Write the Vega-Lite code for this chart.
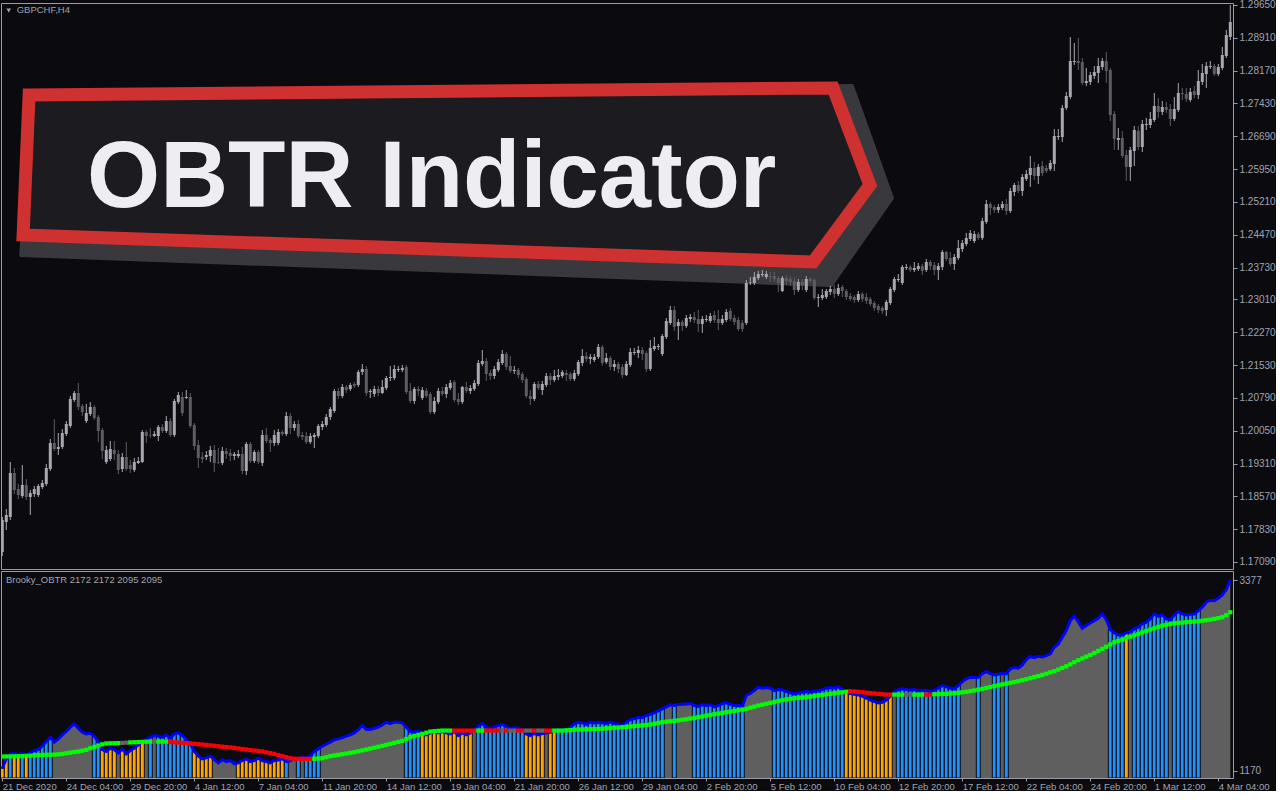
{
"$schema":"https://vega.github.io/schema/vega-lite/v6.json",
"usermeta":{"embedOptions":{"actions":false}},
"background":"#0a0a0f",
"padding":{"left":-4,"top":-1,"right":0,"bottom":0},
"spacing":0,
"config":{"view":{"stroke":"#9c9ca4","strokeWidth":1},"axis":{"labelFont":"Liberation Sans","labelFontSize":10,"labelColor":"#a0a4b0","tickColor":"#9c9ca4","domain":false,"grid":false}},
"datasets":{
"banner":[
{"g":"s","i":0,"bk":8.2,"bp":1.27688},{"g":"s","i":1,"bk":212.4,"bp":1.27824},{"g":"s","i":2,"bk":222.4,"bp":1.25298},{"g":"s","i":3,"bk":207.2,"bp":1.23336},{"g":"s","i":4,"bk":4.7,"bp":1.24013},
{"g":"m","i":0,"bk":6.7,"bp":1.27621},{"g":"m","i":1,"bk":207.7,"bp":1.27779},{"g":"m","i":2,"bk":216.9,"bp":1.25591},{"g":"m","i":3,"bk":202.7,"bp":1.23855},{"g":"m","i":4,"bk":5.2,"bp":1.24464}
],
"d":[
{"k":0,"o":1.17315,"h":1.18105,"l":1.17225,"c":1.18037,"v":1202,"m":1337,"b":2,"s":"g"},
{"k":1,"o":1.17992,"h":1.18285,"l":1.17811,"c":1.1815,"v":1310,"m":1338,"b":2,"s":"g"},
{"k":2,"o":1.18105,"h":1.19345,"l":1.18037,"c":1.19097,"v":1368,"m":1339,"b":1,"s":"g"},
{"k":3,"o":1.19097,"h":1.1921,"l":1.18623,"c":1.18713,"v":1368,"m":1340,"b":2,"s":"g"},
{"k":4,"o":1.18736,"h":1.18849,"l":1.18511,"c":1.18601,"v":1364,"m":1341,"b":2,"s":"g"},
{"k":5,"o":1.18578,"h":1.19277,"l":1.18533,"c":1.18826,"v":1368,"m":1342,"b":1,"s":"g"},
{"k":6,"o":1.18826,"h":1.18962,"l":1.18488,"c":1.18556,"v":1360,"m":1344,"b":2,"s":"g"},
{"k":7,"o":1.18556,"h":1.18713,"l":1.1815,"c":1.18646,"v":1379,"m":1347,"b":1,"s":"g"},
{"k":8,"o":1.18623,"h":1.18804,"l":1.18556,"c":1.18736,"v":1406,"m":1350,"b":1,"s":"g"},
{"k":9,"o":1.18601,"h":1.18849,"l":1.18556,"c":1.18804,"v":1418,"m":1354,"b":1,"s":"g"},
{"k":10,"o":1.18781,"h":1.18939,"l":1.18736,"c":1.18871,"v":1456,"m":1356,"b":1,"s":"g"},
{"k":11,"o":1.18849,"h":1.193,"l":1.18804,"c":1.1921,"v":1510,"m":1357,"b":1,"s":"g"},
{"k":12,"o":1.19187,"h":1.19864,"l":1.19142,"c":1.19773,"v":1560,"m":1358,"b":1,"s":"g"},
{"k":13,"o":1.19773,"h":1.20315,"l":1.19593,"c":1.19638,"v":1503,"m":1359,"b":0,"s":"g"},
{"k":14,"o":1.19638,"h":1.19999,"l":1.19503,"c":1.19683,"v":1541,"m":1362,"b":0,"s":"g"},
{"k":15,"o":1.19683,"h":1.20089,"l":1.19638,"c":1.19999,"v":1587,"m":1367,"b":0,"s":"g"},
{"k":16,"o":1.19976,"h":1.20269,"l":1.19931,"c":1.20202,"v":1626,"m":1375,"b":0,"s":"g"},
{"k":17,"o":1.20157,"h":1.20833,"l":1.20112,"c":1.20766,"v":1676,"m":1382,"b":0,"s":"g"},
{"k":18,"o":1.20743,"h":1.20946,"l":1.20698,"c":1.20901,"v":1714,"m":1389,"b":0,"s":"g"},
{"k":19,"o":1.20901,"h":1.21126,"l":1.20517,"c":1.20585,"v":1664,"m":1395,"b":0,"s":"g"},
{"k":20,"o":1.20608,"h":1.20653,"l":1.20382,"c":1.20472,"v":1618,"m":1404,"b":0,"s":"g"},
{"k":21,"o":1.20269,"h":1.20653,"l":1.20224,"c":1.2045,"v":1599,"m":1414,"b":0,"s":"g"},
{"k":22,"o":1.20427,"h":1.20698,"l":1.20382,"c":1.20585,"v":1606,"m":1433,"b":0,"s":"g"},
{"k":23,"o":1.20585,"h":1.2063,"l":1.20292,"c":1.20337,"v":1572,"m":1448,"b":1,"s":"g"},
{"k":24,"o":1.2036,"h":1.20405,"l":1.19796,"c":1.20044,"v":1503,"m":1464,"b":1,"s":"g"},
{"k":25,"o":1.20066,"h":1.20112,"l":1.19413,"c":1.19593,"v":1418,"m":1478,"b":2,"s":"g"},
{"k":26,"o":1.19345,"h":1.19706,"l":1.193,"c":1.19615,"v":1395,"m":1488,"b":2,"s":"g"},
{"k":27,"o":1.19413,"h":1.19818,"l":1.19367,"c":1.19638,"v":1433,"m":1490,"b":2,"s":"g"},
{"k":28,"o":1.19615,"h":1.19818,"l":1.1939,"c":1.19525,"v":1418,"m":1491,"b":2,"s":"g"},
{"k":29,"o":1.19525,"h":1.19615,"l":1.19074,"c":1.19164,"v":1379,"m":1492,"b":0,"s":"g"},
{"k":30,"o":1.19187,"h":1.19548,"l":1.19119,"c":1.19458,"v":1425,"m":1494,"b":2,"s":"n"},
{"k":31,"o":1.19458,"h":1.19796,"l":1.19142,"c":1.19187,"v":1368,"m":1497,"b":2,"s":"n"},
{"k":32,"o":1.19277,"h":1.1939,"l":1.19097,"c":1.19187,"v":1406,"m":1500,"b":2,"s":"g"},
{"k":33,"o":1.19164,"h":1.19435,"l":1.19119,"c":1.19345,"v":1433,"m":1502,"b":2,"s":"g"},
{"k":34,"o":1.19322,"h":1.19458,"l":1.193,"c":1.19367,"v":1472,"m":1504,"b":2,"s":"g"},
{"k":35,"o":1.19345,"h":1.20066,"l":1.19322,"c":1.20021,"v":1510,"m":1506,"b":2,"s":"g"},
{"k":36,"o":1.20021,"h":1.20066,"l":1.19773,"c":1.19931,"v":1533,"m":1508,"b":0,"s":"g"},
{"k":37,"o":1.19954,"h":1.20112,"l":1.19886,"c":1.19943,"v":1560,"m":1509,"b":1,"s":"g"},
{"k":38,"o":1.19931,"h":1.20044,"l":1.19909,"c":1.19976,"v":1580,"m":1510,"b":0,"s":"n"},
{"k":39,"o":1.19931,"h":1.20179,"l":1.19818,"c":1.20134,"v":1572,"m":1510,"b":1,"s":"g"},
{"k":40,"o":1.20134,"h":1.20202,"l":1.19999,"c":1.20044,"v":1560,"m":1510,"b":1,"s":"g"},
{"k":41,"o":1.20044,"h":1.20382,"l":1.19999,"c":1.20269,"v":1587,"m":1509,"b":1,"s":"g"},
{"k":42,"o":1.20269,"h":1.20337,"l":1.19909,"c":1.19954,"v":1549,"m":1506,"b":1,"s":"r"},
{"k":43,"o":1.19954,"h":1.20766,"l":1.19909,"c":1.2072,"v":1599,"m":1502,"b":1,"s":"r"},
{"k":44,"o":1.20698,"h":1.20923,"l":1.20653,"c":1.20856,"v":1610,"m":1499,"b":1,"s":"r"},
{"k":45,"o":1.20811,"h":1.20923,"l":1.20382,"c":1.2045,"v":1580,"m":1495,"b":1,"s":"r"},
{"k":46,"o":1.20788,"h":1.20968,"l":1.20766,"c":1.20811,"v":1533,"m":1491,"b":1,"s":"r"},
{"k":47,"o":1.20811,"h":1.20901,"l":1.20112,"c":1.20157,"v":1483,"m":1488,"b":1,"s":"r"},
{"k":48,"o":1.20179,"h":1.20224,"l":1.19615,"c":1.19706,"v":1395,"m":1484,"b":2,"s":"r"},
{"k":49,"o":1.19728,"h":1.19841,"l":1.1921,"c":1.19435,"v":1341,"m":1480,"b":2,"s":"r"},
{"k":50,"o":1.19458,"h":1.1957,"l":1.19322,"c":1.19413,"v":1310,"m":1476,"b":2,"s":"r"},
{"k":51,"o":1.19458,"h":1.19593,"l":1.1939,"c":1.19503,"v":1322,"m":1471,"b":2,"s":"r"},
{"k":52,"o":1.1948,"h":1.19706,"l":1.19345,"c":1.19615,"v":1341,"m":1466,"b":2,"s":"r"},
{"k":53,"o":1.19615,"h":1.19728,"l":1.19119,"c":1.19322,"v":1302,"m":1461,"b":0,"s":"r"},
{"k":54,"o":1.19345,"h":1.19661,"l":1.193,"c":1.19334,"v":1264,"m":1456,"b":0,"s":"r"},
{"k":55,"o":1.19322,"h":1.19683,"l":1.19277,"c":1.19593,"v":1302,"m":1451,"b":0,"s":"r"},
{"k":56,"o":1.19593,"h":1.19661,"l":1.19413,"c":1.19525,"v":1279,"m":1446,"b":0,"s":"r"},
{"k":57,"o":1.19548,"h":1.19638,"l":1.19367,"c":1.1948,"v":1291,"m":1442,"b":0,"s":"r"},
{"k":58,"o":1.1948,"h":1.1957,"l":1.1939,"c":1.19525,"v":1252,"m":1437,"b":0,"s":"r"},
{"k":59,"o":1.1948,"h":1.19615,"l":1.19435,"c":1.19525,"v":1264,"m":1431,"b":2,"s":"r"},
{"k":60,"o":1.19525,"h":1.19683,"l":1.19074,"c":1.19142,"v":1291,"m":1424,"b":2,"s":"r"},
{"k":61,"o":1.19142,"h":1.19796,"l":1.19052,"c":1.19751,"v":1310,"m":1418,"b":2,"s":"r"},
{"k":62,"o":1.19751,"h":1.19796,"l":1.19322,"c":1.19367,"v":1279,"m":1412,"b":2,"s":"r"},
{"k":63,"o":1.19367,"h":1.19615,"l":1.19322,"c":1.1957,"v":1291,"m":1406,"b":2,"s":"r"},
{"k":64,"o":1.1957,"h":1.19615,"l":1.193,"c":1.19345,"v":1318,"m":1401,"b":2,"s":"r"},
{"k":65,"o":1.19322,"h":1.20066,"l":1.19255,"c":1.19954,"v":1291,"m":1395,"b":2,"s":"r"},
{"k":66,"o":1.19954,"h":1.20112,"l":1.19773,"c":1.19818,"v":1279,"m":1386,"b":2,"s":"r"},
{"k":67,"o":1.19841,"h":1.19886,"l":1.1957,"c":1.19773,"v":1264,"m":1377,"b":2,"s":"r"},
{"k":68,"o":1.19773,"h":1.20066,"l":1.19706,"c":1.19954,"v":1291,"m":1368,"b":2,"s":"r"},
{"k":69,"o":1.19773,"h":1.20089,"l":1.19728,"c":1.20021,"v":1298,"m":1354,"b":2,"s":"r"},
{"k":70,"o":1.20021,"h":1.20066,"l":1.19931,"c":1.19976,"v":1310,"m":1341,"b":2,"s":"r"},
{"k":71,"o":1.19976,"h":1.20472,"l":1.19931,"c":1.20382,"v":1279,"m":1330,"b":1,"s":"r"},
{"k":72,"o":1.20382,"h":1.2045,"l":1.19976,"c":1.20112,"v":1287,"m":1318,"b":0,"s":"r"},
{"k":73,"o":1.20112,"h":1.20269,"l":1.20044,"c":1.20202,"v":1310,"m":1312,"b":0,"s":"r"},
{"k":74,"o":1.20202,"h":1.20292,"l":1.19886,"c":1.19931,"v":1318,"m":1310,"b":1,"s":"r"},
{"k":75,"o":1.19954,"h":1.20021,"l":1.19841,"c":1.19909,"v":1325,"m":1310,"b":0,"s":"r"},
{"k":76,"o":1.19931,"h":1.20021,"l":1.19751,"c":1.19796,"v":1318,"m":1310,"b":1,"s":"r"},
{"k":77,"o":1.19796,"h":1.19999,"l":1.19751,"c":1.19931,"v":1349,"m":1310,"b":1,"s":"r"},
{"k":78,"o":1.19909,"h":1.19999,"l":1.19661,"c":1.19954,"v":1395,"m":1311,"b":1,"s":"g"},
{"k":79,"o":1.19931,"h":1.20202,"l":1.19886,"c":1.20157,"v":1425,"m":1314,"b":1,"s":"g"},
{"k":80,"o":1.20134,"h":1.20269,"l":1.20066,"c":1.20202,"v":1456,"m":1318,"b":0,"s":"g"},
{"k":81,"o":1.20179,"h":1.20427,"l":1.20134,"c":1.2036,"v":1479,"m":1329,"b":0,"s":"g"},
{"k":82,"o":1.2036,"h":1.20585,"l":1.20292,"c":1.2054,"v":1503,"m":1341,"b":0,"s":"g"},
{"k":83,"o":1.20495,"h":1.20991,"l":1.2045,"c":1.20946,"v":1529,"m":1349,"b":0,"s":"g"},
{"k":84,"o":1.20946,"h":1.21014,"l":1.20766,"c":1.20833,"v":1541,"m":1356,"b":0,"s":"g"},
{"k":85,"o":1.20833,"h":1.21104,"l":1.20788,"c":1.21036,"v":1556,"m":1364,"b":0,"s":"g"},
{"k":86,"o":1.21036,"h":1.21081,"l":1.20901,"c":1.20968,"v":1572,"m":1372,"b":0,"s":"g"},
{"k":87,"o":1.20991,"h":1.21126,"l":1.20946,"c":1.21081,"v":1587,"m":1380,"b":0,"s":"g"},
{"k":88,"o":1.21104,"h":1.21149,"l":1.21014,"c":1.21059,"v":1610,"m":1387,"b":0,"s":"g"},
{"k":89,"o":1.21081,"h":1.21419,"l":1.21036,"c":1.21374,"v":1649,"m":1397,"b":0,"s":"g"},
{"k":90,"o":1.21374,"h":1.21555,"l":1.21307,"c":1.21442,"v":1695,"m":1408,"b":0,"s":"g"},
{"k":91,"o":1.21442,"h":1.2151,"l":1.20833,"c":1.20901,"v":1649,"m":1418,"b":0,"s":"g"},
{"k":92,"o":1.20923,"h":1.20991,"l":1.20788,"c":1.20946,"v":1649,"m":1428,"b":0,"s":"g"},
{"k":93,"o":1.20878,"h":1.21059,"l":1.20811,"c":1.20991,"v":1664,"m":1439,"b":0,"s":"g"},
{"k":94,"o":1.20991,"h":1.21059,"l":1.20833,"c":1.20901,"v":1676,"m":1449,"b":0,"s":"g"},
{"k":95,"o":1.20901,"h":1.21194,"l":1.20878,"c":1.21036,"v":1703,"m":1460,"b":0,"s":"g"},
{"k":96,"o":1.21014,"h":1.21284,"l":1.20968,"c":1.21239,"v":1734,"m":1472,"b":0,"s":"g"},
{"k":97,"o":1.21239,"h":1.2151,"l":1.21171,"c":1.21262,"v":1718,"m":1483,"b":0,"s":"g"},
{"k":98,"o":1.21239,"h":1.21532,"l":1.21194,"c":1.21442,"v":1734,"m":1495,"b":0,"s":"g"},
{"k":99,"o":1.21419,"h":1.2151,"l":1.21374,"c":1.21442,"v":1734,"m":1506,"b":0,"s":"g"},
{"k":100,"o":1.21419,"h":1.21532,"l":1.21374,"c":1.21465,"v":1726,"m":1518,"b":0,"s":"g"},
{"k":101,"o":1.21487,"h":1.21532,"l":1.20878,"c":1.20923,"v":1676,"m":1539,"b":1,"s":"g"},
{"k":102,"o":1.20946,"h":1.21126,"l":1.20675,"c":1.2072,"v":1626,"m":1560,"b":1,"s":"g"},
{"k":103,"o":1.2072,"h":1.21036,"l":1.20653,"c":1.20991,"v":1618,"m":1573,"b":1,"s":"g"},
{"k":104,"o":1.20991,"h":1.21059,"l":1.20833,"c":1.20946,"v":1633,"m":1586,"b":1,"s":"g"},
{"k":105,"o":1.20788,"h":1.21036,"l":1.20743,"c":1.20968,"v":1610,"m":1599,"b":2,"s":"g"},
{"k":106,"o":1.20946,"h":1.21014,"l":1.20788,"c":1.20833,"v":1587,"m":1612,"b":2,"s":"g"},
{"k":107,"o":1.20878,"h":1.20923,"l":1.20427,"c":1.20472,"v":1610,"m":1626,"b":2,"s":"g"},
{"k":108,"o":1.20472,"h":1.20811,"l":1.20427,"c":1.2072,"v":1626,"m":1630,"b":2,"s":"g"},
{"k":109,"o":1.20698,"h":1.21014,"l":1.20653,"c":1.20946,"v":1610,"m":1634,"b":2,"s":"g"},
{"k":110,"o":1.20946,"h":1.21036,"l":1.20833,"c":1.20878,"v":1626,"m":1637,"b":2,"s":"g"},
{"k":111,"o":1.20878,"h":1.21104,"l":1.20788,"c":1.21036,"v":1610,"m":1637,"b":2,"s":"g"},
{"k":112,"o":1.21014,"h":1.21194,"l":1.20968,"c":1.21126,"v":1599,"m":1637,"b":2,"s":"g"},
{"k":113,"o":1.21149,"h":1.21194,"l":1.20698,"c":1.20743,"v":1626,"m":1637,"b":2,"s":"r"},
{"k":114,"o":1.20766,"h":1.20901,"l":1.2063,"c":1.20698,"v":1580,"m":1637,"b":2,"s":"r"},
{"k":115,"o":1.20698,"h":1.21059,"l":1.20653,"c":1.21036,"v":1610,"m":1637,"b":2,"s":"r"},
{"k":116,"o":1.21036,"h":1.21149,"l":1.20901,"c":1.20946,"v":1587,"m":1637,"b":2,"s":"r"},
{"k":117,"o":1.20946,"h":1.21081,"l":1.20878,"c":1.21014,"v":1610,"m":1637,"b":2,"s":"r"},
{"k":118,"o":1.20991,"h":1.21194,"l":1.20946,"c":1.21126,"v":1649,"m":1637,"b":0,"s":"r"},
{"k":119,"o":1.21104,"h":1.21645,"l":1.21059,"c":1.21577,"v":1687,"m":1637,"b":1,"s":"g"},
{"k":120,"o":1.21555,"h":1.2187,"l":1.2151,"c":1.21622,"v":1718,"m":1637,"b":1,"s":"g"},
{"k":121,"o":1.21622,"h":1.2169,"l":1.21171,"c":1.21329,"v":1676,"m":1637,"b":1,"s":"r"},
{"k":122,"o":1.21352,"h":1.21419,"l":1.21194,"c":1.21284,"v":1656,"m":1637,"b":1,"s":"r"},
{"k":123,"o":1.21284,"h":1.2151,"l":1.21217,"c":1.21442,"v":1676,"m":1637,"b":1,"s":"r"},
{"k":124,"o":1.21419,"h":1.21668,"l":1.21374,"c":1.216,"v":1695,"m":1637,"b":1,"s":"r"},
{"k":125,"o":1.21577,"h":1.2187,"l":1.21532,"c":1.2178,"v":1707,"m":1637,"b":1,"s":"n"},
{"k":126,"o":1.2178,"h":1.21825,"l":1.21419,"c":1.21487,"v":1687,"m":1637,"b":1,"s":"r"},
{"k":127,"o":1.2151,"h":1.21735,"l":1.21352,"c":1.21397,"v":1656,"m":1637,"b":1,"s":"n"},
{"k":128,"o":1.21397,"h":1.2151,"l":1.21329,"c":1.21419,"v":1672,"m":1637,"b":1,"s":"n"},
{"k":129,"o":1.21419,"h":1.21465,"l":1.21239,"c":1.21307,"v":1664,"m":1637,"b":1,"s":"r"},
{"k":130,"o":1.21329,"h":1.21374,"l":1.21126,"c":1.21194,"v":1649,"m":1637,"b":1,"s":"r"},
{"k":131,"o":1.21217,"h":1.21262,"l":1.20788,"c":1.20833,"v":1599,"m":1637,"b":2,"s":"n"},
{"k":132,"o":1.20833,"h":1.20968,"l":1.2063,"c":1.20766,"v":1580,"m":1637,"b":2,"s":"n"},
{"k":133,"o":1.20766,"h":1.21149,"l":1.2072,"c":1.21104,"v":1603,"m":1637,"b":2,"s":"r"},
{"k":134,"o":1.21104,"h":1.21171,"l":1.20968,"c":1.21014,"v":1587,"m":1637,"b":2,"s":"n"},
{"k":135,"o":1.20968,"h":1.21171,"l":1.20856,"c":1.21104,"v":1603,"m":1637,"b":2,"s":"n"},
{"k":136,"o":1.21081,"h":1.21352,"l":1.21036,"c":1.21284,"v":1610,"m":1637,"b":0,"s":"r"},
{"k":137,"o":1.21284,"h":1.21352,"l":1.21081,"c":1.21194,"v":1618,"m":1637,"b":2,"s":"r"},
{"k":138,"o":1.21194,"h":1.21419,"l":1.21149,"c":1.21284,"v":1633,"m":1637,"b":2,"s":"g"},
{"k":139,"o":1.21262,"h":1.21442,"l":1.21194,"c":1.21307,"v":1649,"m":1637,"b":1,"s":"g"},
{"k":140,"o":1.21284,"h":1.21419,"l":1.21239,"c":1.21374,"v":1645,"m":1637,"b":1,"s":"g"},
{"k":141,"o":1.21352,"h":1.21419,"l":1.21171,"c":1.21307,"v":1641,"m":1640,"b":1,"s":"g"},
{"k":142,"o":1.21329,"h":1.21374,"l":1.21171,"c":1.21217,"v":1676,"m":1643,"b":1,"s":"g"},
{"k":143,"o":1.21217,"h":1.21419,"l":1.21171,"c":1.21352,"v":1714,"m":1646,"b":1,"s":"g"},
{"k":144,"o":1.21329,"h":1.21645,"l":1.21284,"c":1.216,"v":1734,"m":1649,"b":1,"s":"g"},
{"k":145,"o":1.21577,"h":1.21893,"l":1.2151,"c":1.21735,"v":1726,"m":1650,"b":1,"s":"g"},
{"k":146,"o":1.21735,"h":1.21825,"l":1.216,"c":1.21668,"v":1710,"m":1651,"b":1,"s":"g"},
{"k":147,"o":1.21668,"h":1.2178,"l":1.21555,"c":1.21713,"v":1734,"m":1653,"b":1,"s":"g"},
{"k":148,"o":1.21645,"h":1.2178,"l":1.216,"c":1.21713,"v":1726,"m":1654,"b":1,"s":"g"},
{"k":149,"o":1.21713,"h":1.22006,"l":1.21668,"c":1.21938,"v":1734,"m":1656,"b":1,"s":"g"},
{"k":150,"o":1.21938,"h":1.21983,"l":1.2151,"c":1.21577,"v":1726,"m":1659,"b":1,"s":"g"},
{"k":151,"o":1.216,"h":1.21803,"l":1.21555,"c":1.2169,"v":1718,"m":1662,"b":1,"s":"g"},
{"k":152,"o":1.2169,"h":1.21735,"l":1.21419,"c":1.21487,"v":1734,"m":1665,"b":1,"s":"g"},
{"k":153,"o":1.21487,"h":1.21645,"l":1.21397,"c":1.21555,"v":1718,"m":1669,"b":1,"s":"g"},
{"k":154,"o":1.21555,"h":1.216,"l":1.21352,"c":1.21442,"v":1710,"m":1672,"b":1,"s":"g"},
{"k":155,"o":1.21487,"h":1.21555,"l":1.21239,"c":1.21307,"v":1695,"m":1676,"b":1,"s":"g"},
{"k":156,"o":1.21307,"h":1.21622,"l":1.21284,"c":1.21555,"v":1734,"m":1680,"b":1,"s":"g"},
{"k":157,"o":1.21532,"h":1.21916,"l":1.21487,"c":1.21825,"v":1764,"m":1684,"b":1,"s":"g"},
{"k":158,"o":1.21803,"h":1.21916,"l":1.21758,"c":1.21825,"v":1772,"m":1688,"b":1,"s":"g"},
{"k":159,"o":1.21803,"h":1.21961,"l":1.2169,"c":1.2187,"v":1787,"m":1693,"b":1,"s":"g"},
{"k":160,"o":1.2187,"h":1.21938,"l":1.21645,"c":1.2178,"v":1787,"m":1697,"b":1,"s":"g"},
{"k":161,"o":1.21803,"h":1.21848,"l":1.21374,"c":1.21442,"v":1810,"m":1701,"b":1,"s":"g"},
{"k":162,"o":1.21442,"h":1.22096,"l":1.21397,"c":1.21916,"v":1826,"m":1707,"b":1,"s":"g"},
{"k":163,"o":1.21893,"h":1.22164,"l":1.21848,"c":1.21961,"v":1841,"m":1716,"b":1,"s":"g"},
{"k":164,"o":1.21938,"h":1.22006,"l":1.2187,"c":1.21961,"v":1864,"m":1725,"b":1,"s":"g"},
{"k":165,"o":1.2178,"h":1.22231,"l":1.21735,"c":1.22186,"v":1888,"m":1734,"b":1,"s":"g"},
{"k":166,"o":1.22164,"h":1.22592,"l":1.22119,"c":1.22524,"v":1911,"m":1739,"b":0,"s":"g"},
{"k":167,"o":1.22479,"h":1.22863,"l":1.22434,"c":1.22772,"v":1934,"m":1744,"b":0,"s":"g"},
{"k":168,"o":1.22772,"h":1.22863,"l":1.22299,"c":1.22389,"v":1926,"m":1749,"b":1,"s":"g"},
{"k":169,"o":1.22412,"h":1.2257,"l":1.22096,"c":1.22502,"v":1938,"m":1755,"b":0,"s":"g"},
{"k":170,"o":1.22502,"h":1.22547,"l":1.22299,"c":1.22412,"v":1941,"m":1762,"b":0,"s":"g"},
{"k":171,"o":1.22412,"h":1.2266,"l":1.22367,"c":1.22592,"v":1945,"m":1768,"b":0,"s":"g"},
{"k":172,"o":1.2257,"h":1.22682,"l":1.22502,"c":1.22615,"v":1949,"m":1776,"b":0,"s":"g"},
{"k":173,"o":1.22615,"h":1.22727,"l":1.22479,"c":1.22547,"v":1926,"m":1783,"b":1,"s":"g"},
{"k":174,"o":1.2257,"h":1.22772,"l":1.22276,"c":1.22457,"v":1915,"m":1791,"b":1,"s":"g"},
{"k":175,"o":1.22457,"h":1.22637,"l":1.22254,"c":1.2257,"v":1934,"m":1800,"b":1,"s":"g"},
{"k":176,"o":1.22547,"h":1.2266,"l":1.22502,"c":1.2257,"v":1926,"m":1809,"b":1,"s":"g"},
{"k":177,"o":1.22524,"h":1.22705,"l":1.22479,"c":1.22637,"v":1934,"m":1818,"b":1,"s":"g"},
{"k":178,"o":1.2266,"h":1.2275,"l":1.22479,"c":1.22547,"v":1911,"m":1826,"b":1,"s":"g"},
{"k":179,"o":1.2257,"h":1.22772,"l":1.22321,"c":1.22479,"v":1926,"m":1833,"b":1,"s":"g"},
{"k":180,"o":1.22479,"h":1.2266,"l":1.22434,"c":1.2257,"v":1949,"m":1841,"b":1,"s":"g"},
{"k":181,"o":1.22547,"h":1.22795,"l":1.22502,"c":1.22727,"v":1957,"m":1849,"b":1,"s":"g"},
{"k":182,"o":1.2275,"h":1.22818,"l":1.22524,"c":1.2257,"v":1941,"m":1856,"b":1,"s":"g"},
{"k":183,"o":1.22592,"h":1.2266,"l":1.22434,"c":1.22502,"v":1926,"m":1864,"b":1,"s":"g"},
{"k":184,"o":1.22547,"h":1.22615,"l":1.22299,"c":1.22344,"v":1926,"m":1872,"b":1,"s":"g"},
{"k":185,"o":1.22479,"h":1.22547,"l":1.22276,"c":1.22344,"v":1918,"m":1880,"b":1,"s":"g"},
{"k":186,"o":1.22479,"h":1.23449,"l":1.22434,"c":1.23381,"v":2042,"m":1888,"b":0,"s":"g"},
{"k":187,"o":1.23393,"h":1.23517,"l":1.23336,"c":1.23404,"v":2065,"m":1901,"b":0,"s":"g"},
{"k":188,"o":1.23381,"h":1.23629,"l":1.23336,"c":1.23517,"v":2099,"m":1913,"b":0,"s":"g"},
{"k":189,"o":1.23494,"h":1.23652,"l":1.23449,"c":1.23584,"v":2138,"m":1926,"b":0,"s":"g"},
{"k":190,"o":1.23562,"h":1.23674,"l":1.23517,"c":1.23584,"v":2126,"m":1936,"b":0,"s":"g"},
{"k":191,"o":1.23517,"h":1.23652,"l":1.23472,"c":1.23584,"v":2134,"m":1947,"b":0,"s":"g"},
{"k":192,"o":1.23539,"h":1.23629,"l":1.23404,"c":1.23517,"v":2126,"m":1957,"b":0,"s":"g"},
{"k":193,"o":1.23539,"h":1.23629,"l":1.23404,"c":1.23472,"v":2099,"m":1967,"b":1,"s":"g"},
{"k":194,"o":1.23494,"h":1.23539,"l":1.23178,"c":1.23381,"v":2111,"m":1978,"b":1,"s":"g"},
{"k":195,"o":1.23201,"h":1.23539,"l":1.23178,"c":1.23494,"v":2107,"m":1988,"b":1,"s":"g"},
{"k":196,"o":1.23494,"h":1.23562,"l":1.23336,"c":1.23426,"v":2088,"m":1996,"b":1,"s":"g"},
{"k":197,"o":1.23472,"h":1.23539,"l":1.23314,"c":1.23404,"v":2072,"m":2003,"b":1,"s":"g"},
{"k":198,"o":1.23426,"h":1.23517,"l":1.23111,"c":1.23223,"v":2061,"m":2011,"b":1,"s":"g"},
{"k":199,"o":1.23223,"h":1.23472,"l":1.23178,"c":1.23404,"v":2072,"m":2015,"b":1,"s":"g"},
{"k":200,"o":1.23404,"h":1.23472,"l":1.23223,"c":1.23336,"v":2080,"m":2018,"b":1,"s":"g"},
{"k":201,"o":1.23223,"h":1.23539,"l":1.23178,"c":1.23472,"v":2088,"m":2022,"b":1,"s":"g"},
{"k":202,"o":1.23472,"h":1.23517,"l":1.23381,"c":1.23426,"v":2080,"m":2029,"b":1,"s":"g"},
{"k":203,"o":1.23449,"h":1.23494,"l":1.22998,"c":1.23043,"v":2091,"m":2035,"b":1,"s":"g"},
{"k":204,"o":1.23043,"h":1.23133,"l":1.2284,"c":1.23066,"v":2095,"m":2042,"b":1,"s":"g"},
{"k":205,"o":1.23043,"h":1.23246,"l":1.22998,"c":1.23111,"v":2111,"m":2048,"b":1,"s":"g"},
{"k":206,"o":1.23066,"h":1.23246,"l":1.23021,"c":1.23201,"v":2126,"m":2055,"b":1,"s":"g"},
{"k":207,"o":1.23178,"h":1.23314,"l":1.23111,"c":1.23246,"v":2134,"m":2061,"b":1,"s":"g"},
{"k":208,"o":1.23246,"h":1.23336,"l":1.23043,"c":1.23133,"v":2126,"m":2067,"b":1,"s":"g"},
{"k":209,"o":1.23133,"h":1.23359,"l":1.23088,"c":1.23269,"v":2142,"m":2074,"b":1,"s":"g"},
{"k":210,"o":1.23291,"h":1.23336,"l":1.23066,"c":1.23201,"v":2111,"m":2080,"b":1,"s":"g"},
{"k":211,"o":1.23201,"h":1.23246,"l":1.22998,"c":1.23066,"v":2080,"m":2086,"b":2,"s":"g"},
{"k":212,"o":1.23088,"h":1.23156,"l":1.22975,"c":1.23021,"v":2065,"m":2092,"b":2,"s":"r"},
{"k":213,"o":1.23066,"h":1.23111,"l":1.2293,"c":1.22998,"v":2057,"m":2088,"b":2,"s":"r"},
{"k":214,"o":1.22998,"h":1.23201,"l":1.22953,"c":1.23133,"v":2049,"m":2084,"b":2,"s":"r"},
{"k":215,"o":1.23133,"h":1.23178,"l":1.22953,"c":1.23021,"v":2034,"m":2080,"b":2,"s":"r"},
{"k":216,"o":1.23066,"h":1.23156,"l":1.22908,"c":1.22975,"v":2011,"m":2075,"b":2,"s":"r"},
{"k":217,"o":1.23021,"h":1.23066,"l":1.22863,"c":1.22908,"v":1988,"m":2070,"b":2,"s":"r"},
{"k":218,"o":1.2293,"h":1.22975,"l":1.2275,"c":1.22818,"v":1972,"m":2065,"b":2,"s":"r"},
{"k":219,"o":1.22863,"h":1.22908,"l":1.22705,"c":1.22772,"v":1957,"m":2061,"b":2,"s":"r"},
{"k":220,"o":1.22818,"h":1.22863,"l":1.22682,"c":1.2275,"v":1965,"m":2057,"b":2,"s":"r"},
{"k":221,"o":1.22772,"h":1.22998,"l":1.22637,"c":1.22953,"v":1988,"m":2053,"b":2,"s":"r"},
{"k":222,"o":1.2293,"h":1.23291,"l":1.22885,"c":1.23246,"v":2034,"m":2053,"b":2,"s":"r"},
{"k":223,"o":1.23223,"h":1.23517,"l":1.23178,"c":1.23472,"v":2080,"m":2053,"b":0,"s":"g"},
{"k":224,"o":1.23449,"h":1.23584,"l":1.23404,"c":1.23472,"v":2111,"m":2053,"b":1,"s":"g"},
{"k":225,"o":1.23381,"h":1.23787,"l":1.23336,"c":1.23742,"v":2119,"m":2053,"b":1,"s":"g"},
{"k":226,"o":1.2372,"h":1.2381,"l":1.23674,"c":1.23742,"v":2111,"m":2053,"b":1,"s":"n"},
{"k":227,"o":1.23742,"h":1.23787,"l":1.23629,"c":1.23674,"v":2103,"m":2053,"b":1,"s":"n"},
{"k":228,"o":1.23674,"h":1.23855,"l":1.23629,"c":1.2372,"v":2111,"m":2053,"b":1,"s":"g"},
{"k":229,"o":1.23697,"h":1.23832,"l":1.23652,"c":1.23765,"v":2095,"m":2053,"b":1,"s":"g"},
{"k":230,"o":1.23765,"h":1.2381,"l":1.23562,"c":1.23652,"v":2099,"m":2053,"b":1,"s":"g"},
{"k":231,"o":1.23674,"h":1.23923,"l":1.23629,"c":1.23855,"v":2103,"m":2053,"b":1,"s":"r"},
{"k":232,"o":1.23855,"h":1.239,"l":1.23674,"c":1.23765,"v":2088,"m":2053,"b":1,"s":"r"},
{"k":233,"o":1.23787,"h":1.23855,"l":1.23562,"c":1.23674,"v":2103,"m":2057,"b":1,"s":"g"},
{"k":234,"o":1.23674,"h":1.23832,"l":1.23449,"c":1.23765,"v":2126,"m":2058,"b":1,"s":"g"},
{"k":235,"o":1.23742,"h":1.24125,"l":1.23674,"c":1.2408,"v":2157,"m":2060,"b":1,"s":"g"},
{"k":236,"o":1.2408,"h":1.24103,"l":1.23877,"c":1.23923,"v":2142,"m":2061,"b":1,"s":"g"},
{"k":237,"o":1.23945,"h":1.2408,"l":1.23765,"c":1.2381,"v":2126,"m":2065,"b":1,"s":"g"},
{"k":238,"o":1.2381,"h":1.24035,"l":1.23674,"c":1.23968,"v":2119,"m":2068,"b":1,"s":"g"},
{"k":239,"o":1.23945,"h":1.24351,"l":1.239,"c":1.24171,"v":2157,"m":2072,"b":1,"s":"g"},
{"k":240,"o":1.24148,"h":1.24351,"l":1.2408,"c":1.24283,"v":2203,"m":2079,"b":0,"s":"g"},
{"k":241,"o":1.24261,"h":1.24509,"l":1.24216,"c":1.24396,"v":2234,"m":2085,"b":0,"s":"g"},
{"k":242,"o":1.24374,"h":1.24576,"l":1.24328,"c":1.24509,"v":2253,"m":2092,"b":0,"s":"g"},
{"k":243,"o":1.24328,"h":1.24554,"l":1.24283,"c":1.24486,"v":2249,"m":2101,"b":0,"s":"g"},
{"k":244,"o":1.24486,"h":1.24531,"l":1.24351,"c":1.24396,"v":2253,"m":2110,"b":1,"s":"g"},
{"k":245,"o":1.24396,"h":1.24847,"l":1.24351,"c":1.24779,"v":2292,"m":2119,"b":0,"s":"g"},
{"k":246,"o":1.24757,"h":1.25253,"l":1.24712,"c":1.25163,"v":2319,"m":2129,"b":0,"s":"g"},
{"k":247,"o":1.25163,"h":1.25208,"l":1.24915,"c":1.25073,"v":2296,"m":2140,"b":0,"s":"g"},
{"k":248,"o":1.25095,"h":1.2514,"l":1.2496,"c":1.25027,"v":2280,"m":2150,"b":1,"s":"g"},
{"k":249,"o":1.25027,"h":1.25163,"l":1.2496,"c":1.25095,"v":2288,"m":2160,"b":1,"s":"g"},
{"k":250,"o":1.25073,"h":1.2523,"l":1.25027,"c":1.25163,"v":2296,"m":2170,"b":0,"s":"g"},
{"k":251,"o":1.25163,"h":1.25276,"l":1.24915,"c":1.25005,"v":2292,"m":2180,"b":1,"s":"g"},
{"k":252,"o":1.25005,"h":1.25524,"l":1.2496,"c":1.25456,"v":2350,"m":2189,"b":0,"s":"g"},
{"k":253,"o":1.25433,"h":1.25636,"l":1.25343,"c":1.25591,"v":2365,"m":2198,"b":0,"s":"g"},
{"k":254,"o":1.25591,"h":1.25681,"l":1.25411,"c":1.25456,"v":2357,"m":2207,"b":0,"s":"g"},
{"k":255,"o":1.25456,"h":1.25839,"l":1.25343,"c":1.25772,"v":2396,"m":2219,"b":0,"s":"g"},
{"k":256,"o":1.25727,"h":1.25929,"l":1.25681,"c":1.25839,"v":2457,"m":2230,"b":0,"s":"g"},
{"k":257,"o":1.25817,"h":1.26245,"l":1.25546,"c":1.25975,"v":2496,"m":2242,"b":0,"s":"g"},
{"k":258,"o":1.25975,"h":1.2611,"l":1.25704,"c":1.25795,"v":2480,"m":2255,"b":0,"s":"g"},
{"k":259,"o":1.25795,"h":1.26065,"l":1.25614,"c":1.25997,"v":2496,"m":2267,"b":0,"s":"g"},
{"k":260,"o":1.2602,"h":1.26133,"l":1.25795,"c":1.25862,"v":2488,"m":2280,"b":0,"s":"g"},
{"k":261,"o":1.25975,"h":1.26042,"l":1.25862,"c":1.25907,"v":2503,"m":2294,"b":0,"s":"g"},
{"k":262,"o":1.25952,"h":1.26155,"l":1.25907,"c":1.26087,"v":2523,"m":2309,"b":0,"s":"g"},
{"k":263,"o":1.26065,"h":1.26854,"l":1.25907,"c":1.26696,"v":2600,"m":2323,"b":0,"s":"g"},
{"k":264,"o":1.26674,"h":1.26854,"l":1.26606,"c":1.26696,"v":2638,"m":2342,"b":0,"s":"g"},
{"k":265,"o":1.26674,"h":1.27395,"l":1.26561,"c":1.27328,"v":2715,"m":2361,"b":0,"s":"g"},
{"k":266,"o":1.27328,"h":1.27688,"l":1.27283,"c":1.27598,"v":2792,"m":2380,"b":0,"s":"g"},
{"k":267,"o":1.27576,"h":1.28929,"l":1.27531,"c":1.28387,"v":2908,"m":2403,"b":0,"s":"g"},
{"k":268,"o":1.28365,"h":1.28793,"l":1.28297,"c":1.28387,"v":2958,"m":2427,"b":0,"s":"g"},
{"k":269,"o":1.28387,"h":1.28906,"l":1.28185,"c":1.28342,"v":2896,"m":2450,"b":0,"s":"g"},
{"k":270,"o":1.28365,"h":1.28455,"l":1.27846,"c":1.27891,"v":2819,"m":2470,"b":0,"s":"g"},
{"k":271,"o":1.27891,"h":1.2823,"l":1.27824,"c":1.27936,"v":2850,"m":2491,"b":0,"s":"g"},
{"k":272,"o":1.27914,"h":1.28139,"l":1.27846,"c":1.28072,"v":2881,"m":2511,"b":0,"s":"g"},
{"k":273,"o":1.28049,"h":1.28275,"l":1.27982,"c":1.28139,"v":2908,"m":2534,"b":0,"s":"g"},
{"k":274,"o":1.28117,"h":1.28455,"l":1.27891,"c":1.28275,"v":2935,"m":2558,"b":0,"s":"g"},
{"k":275,"o":1.28252,"h":1.28455,"l":1.28185,"c":1.28387,"v":2985,"m":2581,"b":0,"s":"g"},
{"k":276,"o":1.28387,"h":1.2859,"l":1.27891,"c":1.28162,"v":2919,"m":2606,"b":0,"s":"g"},
{"k":277,"o":1.28185,"h":1.2823,"l":1.27034,"c":1.2717,"v":2804,"m":2632,"b":1,"s":"g"},
{"k":278,"o":1.27192,"h":1.2726,"l":1.26381,"c":1.26629,"v":2765,"m":2657,"b":1,"s":"g"},
{"k":279,"o":1.26606,"h":1.26877,"l":1.26381,"c":1.26651,"v":2742,"m":2673,"b":1,"s":"g"},
{"k":280,"o":1.26651,"h":1.26809,"l":1.262,"c":1.26245,"v":2742,"m":2688,"b":1,"s":"g"},
{"k":281,"o":1.26268,"h":1.26381,"l":1.25681,"c":1.25997,"v":2765,"m":2704,"b":2,"s":"g"},
{"k":282,"o":1.25997,"h":1.26448,"l":1.25681,"c":1.26381,"v":2781,"m":2721,"b":0,"s":"g"},
{"k":283,"o":1.26358,"h":1.26922,"l":1.2602,"c":1.26831,"v":2812,"m":2737,"b":1,"s":"g"},
{"k":284,"o":1.26809,"h":1.26922,"l":1.26381,"c":1.26448,"v":2831,"m":2754,"b":1,"s":"g"},
{"k":285,"o":1.26448,"h":1.27057,"l":1.26335,"c":1.26967,"v":2869,"m":2771,"b":1,"s":"g"},
{"k":286,"o":1.26944,"h":1.27102,"l":1.26831,"c":1.26967,"v":2888,"m":2787,"b":1,"s":"g"},
{"k":287,"o":1.26944,"h":1.27238,"l":1.26877,"c":1.2708,"v":2927,"m":2804,"b":1,"s":"g"},
{"k":288,"o":1.27057,"h":1.27666,"l":1.27012,"c":1.27373,"v":2985,"m":2819,"b":1,"s":"g"},
{"k":289,"o":1.27373,"h":1.27553,"l":1.27102,"c":1.27238,"v":2958,"m":2835,"b":1,"s":"g"},
{"k":290,"o":1.27238,"h":1.27485,"l":1.2717,"c":1.2735,"v":2973,"m":2850,"b":1,"s":"g"},
{"k":291,"o":1.2735,"h":1.27463,"l":1.27215,"c":1.27283,"v":2927,"m":2859,"b":1,"s":"g"},
{"k":292,"o":1.27305,"h":1.27418,"l":1.26922,"c":1.2708,"v":2919,"m":2868,"b":0,"s":"g"},
{"k":293,"o":1.2708,"h":1.27576,"l":1.27034,"c":1.27305,"v":2973,"m":2877,"b":1,"s":"g"},
{"k":294,"o":1.27283,"h":1.27891,"l":1.27238,"c":1.27666,"v":3012,"m":2881,"b":1,"s":"g"},
{"k":295,"o":1.27666,"h":1.27779,"l":1.27508,"c":1.27643,"v":2985,"m":2885,"b":1,"s":"g"},
{"k":296,"o":1.27643,"h":1.27779,"l":1.27463,"c":1.27531,"v":2973,"m":2889,"b":1,"s":"g"},
{"k":297,"o":1.27508,"h":1.27779,"l":1.27463,"c":1.27688,"v":2981,"m":2893,"b":1,"s":"g"},
{"k":298,"o":1.27711,"h":1.27824,"l":1.27553,"c":1.27621,"v":2985,"m":2896,"b":1,"s":"g"},
{"k":299,"o":1.27621,"h":1.28185,"l":1.27531,"c":1.27936,"v":3023,"m":2900,"b":1,"s":"g"},
{"k":300,"o":1.27914,"h":1.2832,"l":1.27846,"c":1.28117,"v":3062,"m":2906,"b":0,"s":"g"},
{"k":301,"o":1.28094,"h":1.28365,"l":1.27779,"c":1.28275,"v":3120,"m":2913,"b":0,"s":"g"},
{"k":302,"o":1.28252,"h":1.28387,"l":1.28207,"c":1.28275,"v":3143,"m":2919,"b":0,"s":"g"},
{"k":303,"o":1.28275,"h":1.2832,"l":1.28049,"c":1.28094,"v":3139,"m":2928,"b":0,"s":"g"},
{"k":304,"o":1.28094,"h":1.2832,"l":1.28049,"c":1.28252,"v":3166,"m":2937,"b":0,"s":"g"},
{"k":305,"o":1.2823,"h":1.28703,"l":1.28185,"c":1.28523,"v":3204,"m":2946,"b":0,"s":"g"},
{"k":306,"o":1.285,"h":1.29087,"l":1.28455,"c":1.28974,"v":3266,"m":2970,"b":0,"s":"g"},
{"k":307,"o":1.28929,"h":1.2965,"l":1.28861,"c":1.29267,"v":3377,"m":3004,"b":0,"s":"g"}
]},
"vconcat":[
{
"width":1232,"height":566,
"data":{"name":"d"},
"layer":[
{"data":{"name":"banner"},"transform":[{"filter":"datum.g==='s'"}],
 "mark":{"type":"line","interpolate":"linear-closed","fill":"#38383d","stroke":"#38383d","strokeWidth":4,"strokeJoin":"round"},
 "encoding":{"x":{"field":"bk","type":"quantitative","scale":{"domain":[-0.325,307.675],"nice":false,"zero":false,"padding":0},"axis":null},
  "y":{"field":"bp","type":"quantitative","scale":{"domain":[1.16932,1.29695],"nice":false,"zero":false,"padding":0},"axis":{"orient":"right","title":null,"values":[1.1709,1.1783,1.1857,1.1931,1.2005,1.2079,1.2153,1.2227,1.2301,1.2373,1.2447,1.2521,1.2595,1.2669,1.2743,1.2817,1.2891,1.2965],"format":".5f","tickSize":4,"labelPadding":2}},
  "order":{"field":"i"}}},
{"data":{"name":"banner"},"transform":[{"filter":"datum.g==='m'"}],
 "mark":{"type":"line","interpolate":"linear-closed","fill":"#1b1b20","stroke":"#cf3030","strokeWidth":13,"strokeJoin":"miter"},
 "encoding":{"x":{"field":"bk","type":"quantitative","axis":null},
  "y":{"field":"bp","type":"quantitative","axis":{"orient":"right","title":null,"values":[1.1709,1.1783,1.1857,1.1931,1.2005,1.2079,1.2153,1.2227,1.2301,1.2373,1.2447,1.2521,1.2595,1.2669,1.2743,1.2817,1.2891,1.2965],"format":".5f","tickSize":4,"labelPadding":2}},
  "order":{"field":"i"}}},
{"data":{"values":[{"t":"OBTR Indicator"}]},
 "mark":{"type":"text","font":"Liberation Sans","fontWeight":"bold","fontSize":94,"align":"left","baseline":"alphabetic","color":"#eeeef2"},
 "encoding":{"x":{"datum":21.2,"type":"quantitative","axis":null},"y":{"datum":1.25095,"type":"quantitative","axis":{"orient":"right","title":null,"values":[1.1709,1.1783,1.1857,1.1931,1.2005,1.2079,1.2153,1.2227,1.2301,1.2373,1.2447,1.2521,1.2595,1.2669,1.2743,1.2817,1.2891,1.2965],"format":".5f","tickSize":4,"labelPadding":2}},"text":{"field":"t"}}},
{"data":{"values":[{"t":"GBPCHF,H4"}]},
 "mark":{"type":"text","font":"Liberation Sans","fontSize":9.5,"align":"left","baseline":"middle","color":"#a0a4b0"},
 "encoding":{"x":{"datum":3.6,"type":"quantitative","axis":null},"y":{"datum":1.29537,"type":"quantitative","axis":{"orient":"right","title":null,"values":[1.1709,1.1783,1.1857,1.1931,1.2005,1.2079,1.2153,1.2227,1.2301,1.2373,1.2447,1.2521,1.2595,1.2669,1.2743,1.2817,1.2891,1.2965],"format":".5f","tickSize":4,"labelPadding":2}},"text":{"field":"t"}}},
{"data":{"values":[{"t":"tri"}]},
 "mark":{"type":"point","shape":"triangle-down","filled":true,"size":22,"color":"#a0a4b0","opacity":1},
 "encoding":{"x":{"datum":1.6,"type":"quantitative","axis":null},"y":{"datum":1.29525,"type":"quantitative","axis":{"orient":"right","title":null,"values":[1.1709,1.1783,1.1857,1.1931,1.2005,1.2079,1.2153,1.2227,1.2301,1.2373,1.2447,1.2521,1.2595,1.2669,1.2743,1.2817,1.2891,1.2965],"format":".5f","tickSize":4,"labelPadding":2}}}},
{"mark":{"type":"rule","strokeWidth":1,"clip":true},
 "encoding":{"x":{"field":"k","type":"quantitative","axis":null},
  "y":{"field":"l","type":"quantitative","axis":{"orient":"right","title":null,"values":[1.1709,1.1783,1.1857,1.1931,1.2005,1.2079,1.2153,1.2227,1.2301,1.2373,1.2447,1.2521,1.2595,1.2669,1.2743,1.2817,1.2891,1.2965],"format":".5f","tickSize":4,"labelPadding":2}},"y2":{"field":"h"},
  "color":{"condition":{"test":"datum.c >= datum.o","value":"#a8a8b2"},"value":"#5c5c63"}}},
{"mark":{"type":"bar","width":3,"clip":true},
 "encoding":{"x":{"field":"k","type":"quantitative","axis":null},
  "y":{"field":"o","type":"quantitative","axis":{"orient":"right","title":null,"values":[1.1709,1.1783,1.1857,1.1931,1.2005,1.2079,1.2153,1.2227,1.2301,1.2373,1.2447,1.2521,1.2595,1.2669,1.2743,1.2817,1.2891,1.2965],"format":".5f","tickSize":4,"labelPadding":2}},
  "y2":{"field":"c"},
  "color":{"condition":{"test":"datum.c >= datum.o","value":"#a8a8b2"},"value":"#5c5c63"}}}
]
},
{
"width":1232,"height":207,
"data":{"name":"d"},
"layer":[
{"mark":{"type":"area","color":"#5f5f5f","clip":true},
 "encoding":{"x":{"field":"k","type":"quantitative","scale":{"domain":[-0.325,307.675],"nice":false,"zero":false,"padding":0},
   "axis":{"title":null,"values":[0,16,32,48,64,80,96,112,128,144,160,176,192,208,224,240,256,272,288,304],"labelExpr":"['21 Dec 2020','24 Dec 04:00','29 Dec 20:00','4 Jan 12:00','7 Jan 04:00','11 Jan 20:00','14 Jan 12:00','19 Jan 04:00','21 Jan 20:00','26 Jan 12:00','29 Jan 04:00','2 Feb 20:00','5 Feb 12:00','10 Feb 04:00','12 Feb 20:00','17 Feb 12:00','22 Feb 04:00','24 Feb 20:00','1 Mar 12:00','4 Mar 04:00'][round(datum.value/16)]","labelAlign":"left","labelOverlap":false,"labelFlush":false,"tickSize":3,"labelPadding":0,"labelDx":-1,"labelFontSize":9.5}},
  "y":{"field":"v","type":"quantitative","scale":{"domain":[1089,3481],"nice":false,"zero":false,"padding":0},"axis":{"orient":"right","title":null,"values":[1170,3377],"format":"d","tickSize":4,"labelPadding":2}},
  "y2":{"datum":1089}}},
{"transform":[{"filter":"datum.b > 0"}],
 "mark":{"type":"bar","width":4,"stroke":"#0a0a0f","strokeWidth":1,"clip":true},
 "encoding":{"x":{"field":"k","type":"quantitative","axis":{"title":null,"values":[0,16,32,48,64,80,96,112,128,144,160,176,192,208,224,240,256,272,288,304],"labelExpr":"['21 Dec 2020','24 Dec 04:00','29 Dec 20:00','4 Jan 12:00','7 Jan 04:00','11 Jan 20:00','14 Jan 12:00','19 Jan 04:00','21 Jan 20:00','26 Jan 12:00','29 Jan 04:00','2 Feb 20:00','5 Feb 12:00','10 Feb 04:00','12 Feb 20:00','17 Feb 12:00','22 Feb 04:00','24 Feb 20:00','1 Mar 12:00','4 Mar 04:00'][round(datum.value/16)]","labelAlign":"left","labelOverlap":false,"labelFlush":false,"tickSize":3,"labelPadding":0,"labelDx":-1,"labelFontSize":9.5}},
  "y":{"field":"v","type":"quantitative","axis":{"orient":"right","title":null,"values":[1170,3377],"format":"d","tickSize":4,"labelPadding":2}},"y2":{"datum":1089},
  "color":{"condition":{"test":"datum.b == 1","value":"#1e90ff"},"value":"#ffa500"}}},
{"mark":{"type":"line","color":"#0000ff","strokeWidth":3,"clip":true},
 "encoding":{"x":{"field":"k","type":"quantitative","axis":{"title":null,"values":[0,16,32,48,64,80,96,112,128,144,160,176,192,208,224,240,256,272,288,304],"labelExpr":"['21 Dec 2020','24 Dec 04:00','29 Dec 20:00','4 Jan 12:00','7 Jan 04:00','11 Jan 20:00','14 Jan 12:00','19 Jan 04:00','21 Jan 20:00','26 Jan 12:00','29 Jan 04:00','2 Feb 20:00','5 Feb 12:00','10 Feb 04:00','12 Feb 20:00','17 Feb 12:00','22 Feb 04:00','24 Feb 20:00','1 Mar 12:00','4 Mar 04:00'][round(datum.value/16)]","labelAlign":"left","labelOverlap":false,"labelFlush":false,"tickSize":3,"labelPadding":0,"labelDx":-1,"labelFontSize":9.5}},
  "y":{"field":"v","type":"quantitative","axis":{"orient":"right","title":null,"values":[1170,3377],"format":"d","tickSize":4,"labelPadding":2}}}},
{"mark":{"type":"point","shape":"square","filled":true,"size":18,"opacity":1,"clip":true},
 "encoding":{"x":{"field":"k","type":"quantitative","axis":{"title":null,"values":[0,16,32,48,64,80,96,112,128,144,160,176,192,208,224,240,256,272,288,304],"labelExpr":"['21 Dec 2020','24 Dec 04:00','29 Dec 20:00','4 Jan 12:00','7 Jan 04:00','11 Jan 20:00','14 Jan 12:00','19 Jan 04:00','21 Jan 20:00','26 Jan 12:00','29 Jan 04:00','2 Feb 20:00','5 Feb 12:00','10 Feb 04:00','12 Feb 20:00','17 Feb 12:00','22 Feb 04:00','24 Feb 20:00','1 Mar 12:00','4 Mar 04:00'][round(datum.value/16)]","labelAlign":"left","labelOverlap":false,"labelFlush":false,"tickSize":3,"labelPadding":0,"labelDx":-1,"labelFontSize":9.5}},
  "y":{"field":"m","type":"quantitative","axis":{"orient":"right","title":null,"values":[1170,3377],"format":"d","tickSize":4,"labelPadding":2}},
  "color":{"condition":[{"test":"datum.s == 'g'","value":"#00ff00"},{"test":"datum.s == 'r'","value":"#ff0000"}],"value":"#646464"}}},
{"data":{"values":[{"t":"Brooky_OBTR 2172 2172 2095 2095"}]},
 "mark":{"type":"text","font":"Liberation Sans","fontSize":9.5,"align":"left","baseline":"middle","color":"#a0a4b0"},
 "encoding":{"x":{"datum":0.9,"type":"quantitative","axis":{"title":null,"values":[0,16,32,48,64,80,96,112,128,144,160,176,192,208,224,240,256,272,288,304],"labelExpr":"['21 Dec 2020','24 Dec 04:00','29 Dec 20:00','4 Jan 12:00','7 Jan 04:00','11 Jan 20:00','14 Jan 12:00','19 Jan 04:00','21 Jan 20:00','26 Jan 12:00','29 Jan 04:00','2 Feb 20:00','5 Feb 12:00','10 Feb 04:00','12 Feb 20:00','17 Feb 12:00','22 Feb 04:00','24 Feb 20:00','1 Mar 12:00','4 Mar 04:00'][round(datum.value/16)]","labelAlign":"left","labelOverlap":false,"labelFlush":false,"tickSize":3,"labelPadding":0,"labelDx":-1,"labelFontSize":9.5}},
  "y":{"datum":3380,"type":"quantitative","axis":{"orient":"right","title":null,"values":[1170,3377],"format":"d","tickSize":4,"labelPadding":2}},"text":{"field":"t"}}}
]
}
]
}
